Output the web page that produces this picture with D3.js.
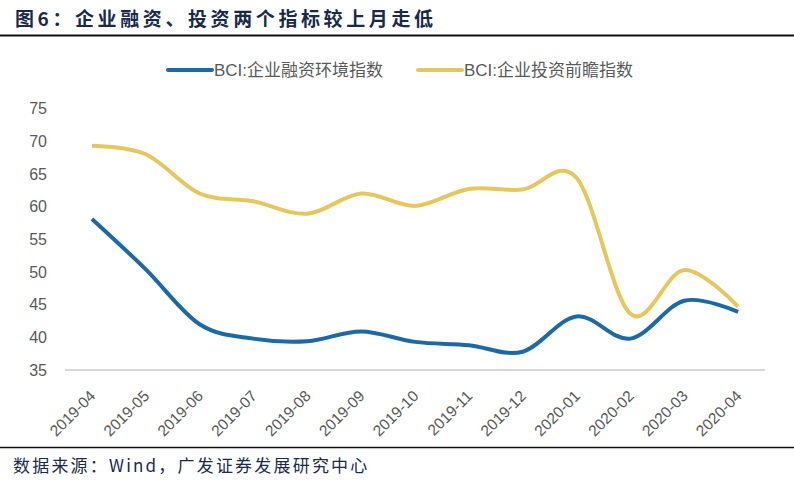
<!DOCTYPE html>
<html>
<head>
<meta charset="utf-8">
<script src="https://cdn.jsdelivr.net/npm/d3@7/dist/d3.min.js"></script>
<style>
  html, body { margin: 0; padding: 0; background: #fff; }
  svg { display: block; font-family: "Liberation Sans", Arial, "Noto Sans CJK SC", sans-serif; }
  .cjk { font-family: "Noto Sans CJK SC", sans-serif; }
</style>
</head>
<body>
<div id="chart"></div>
<script>
// data
const months = ['2019-04', '2019-05', '2019-06', '2019-07', '2019-08', '2019-09', '2019-10',
                '2019-11', '2019-12', '2020-01', '2020-02', '2020-03', '2020-04']
const finance = [58.1, 50.4, 42.0, 39.8, 39.4, 40.9, 39.3, 38.8, 37.8, 43.2, 39.8, 45.6, 43.9]
const invest  = [69.3, 68.0, 62.0, 60.8, 58.9, 62.0, 60.1, 62.7, 62.6, 64.4, 43.6, 50.3, 44.7]
const yTicks  = [35, 40, 45, 50, 55, 60, 65, 70, 75]
const seriesNames = ['BCI:企业融资环境指数', 'BCI:企业投资前瞻指数']
const colors  = ['#1B6AA5', '#E6C75E']

const W = 794, H = 483

let svg = d3.select('#chart').append('svg')
      .attr('width', W)
      .attr('height', H),

    x = d3.scalePoint()
      .domain(months)
      .range([65, 765])
      .padding(0.5),

    y = d3.scaleLinear()
      .domain([35, 75])
      .range([370, 108.5])

// title + rule under it
svg.append('text')
  .attr('class', 'cjk')
  .attr('x', 15)
  .attr('y', 26)
  .attr('font-size', 19)
  .attr('font-weight', 'bold')
  .attr('letter-spacing', 3.6)
  .attr('fill', '#1B2A4A')
  .text('图6：企业融资、投资两个指标较上月走低')

svg.append('line')
  .attr('x1', 0).attr('x2', W)
  .attr('y1', 35.5).attr('y2', 35.5)
  .attr('stroke', '#111').attr('stroke-width', 2)

// legend
let lg = svg.append('g').selectAll('g')
  .data(seriesNames)
  .join('g')
  .attr('transform', (d, i) => 'translate(' + [168, 418][i] + ',70)')

lg.append('line')
  .attr('x1', 0).attr('x2', 44)
  .attr('stroke', (d, i) => colors[i])
  .attr('stroke-width', 4)
  .attr('stroke-linecap', 'round')

lg.append('text')
  .attr('x', 46)
  .attr('y', 6)
  .attr('font-size', 17)
  .attr('fill', '#595959')
  .text(d => d)

// y axis (labels only)
let ya = svg.append('g')
  .attr('transform', 'translate(47,0)')
  .call(d3.axisLeft(y).tickValues(yTicks).tickSize(0).tickPadding(0))
ya.select('.domain').remove()
ya.selectAll('text')
  .attr('font-size', 16)
  .attr('fill', '#595959')
  .attr('font-family', '"Liberation Sans", Arial, sans-serif')

// baseline
svg.append('line')
  .attr('x1', 65).attr('x2', 765)
  .attr('y1', y(35)).attr('y2', y(35))
  .attr('stroke', '#D9D9D9').attr('stroke-width', 2)

// x axis, rotated labels
let xa = svg.append('g')
  .attr('transform', 'translate(0,' + y(35) + ')')
  .call(d3.axisBottom(x).tickSize(0))
xa.select('.domain').remove()
xa.selectAll('text')
  .attr('font-size', 15.5)
  .attr('fill', '#595959')
  .attr('font-family', '"Liberation Sans", Arial, sans-serif')
  .attr('text-anchor', 'end')
  .attr('dy', null)
  .attr('y', 0)
  .attr('transform', 'translate(4,27) rotate(-45)')

// lines
let line = d3.line()
  .x((d, i) => x(months[i]))
  .y(d => y(d))
  .curve(d3.curveCardinal.tension(0))

svg.append('g').selectAll('path')
  .data([finance, invest])
  .join('path')
  .attr('d', line)
  .attr('fill', 'none')
  .attr('stroke', (d, i) => colors[i])
  .attr('stroke-width', 4)
  .attr('stroke-linejoin', 'round')

// source
svg.append('line')
  .attr('x1', 0).attr('x2', W)
  .attr('y1', 447.5).attr('y2', 447.5)
  .attr('stroke', '#111').attr('stroke-width', 1.5)

svg.append('text')
  .attr('class', 'cjk')
  .attr('x', 13)
  .attr('y', 472)
  .attr('font-size', 17)
  .attr('letter-spacing', 2.2)
  .attr('fill', '#1B2A4A')
  .text('数据来源：Wind，广发证券发展研究中心')
</script>
</body>
</html>
